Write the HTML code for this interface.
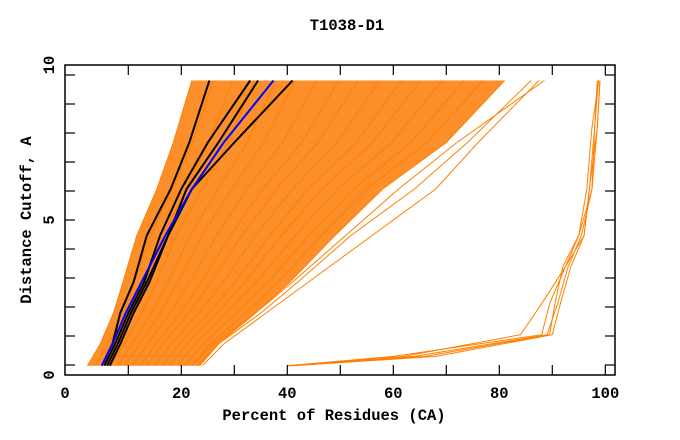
<!DOCTYPE html>
<html><head><meta charset="utf-8"><style>
html,body{margin:0;padding:0;background:#fff}
svg{display:block}
text{font-family:"Liberation Mono",monospace;font-weight:bold;font-size:15.5px;fill:#000}
</style></head><body>
<svg id="chart" width="680" height="440" viewBox="0 0 680 440">
<text x="347" y="30" text-anchor="middle">T1038-D1</text>
<text x="334" y="420" text-anchor="middle">Percent of Residues (CA)</text>
<text transform="translate(31,220) rotate(-90)" text-anchor="middle">Distance Cutoff, A</text>
<g id="plot"></g>
</svg>
<script>
const levels = [0.3,1,2,3,4.5,6,7.5,9.5];
const bandLeft = [2.3,4.7,7.2,9,11.6,15.4,18.5,22];
const bandRight = [23.5,27,34,40.5,49,58,70,81];
const orangeLines = [
 [2.3,4.7,7.2,9,11.6,15.4,18.5,22],
 [3.8,6.3,9.1,11.2,14.2,18.4,22.1,26.1],
 [5.1,7.6,10.7,13.1,16.5,20.9,25.2,29.7],
 [6.5,9.2,12.6,15.3,19.1,23.9,28.8,33.8],
 [8.0,10.7,14.4,17.5,21.7,26.9,32.4,37.9],
 [9.3,12.1,16,19.4,23.9,29.5,35.5,41.5],
 [10.8,13.6,17.9,21.6,26.6,32.4,39.1,45.6],
 [12.3,15.2,19.8,23.8,29.2,35.4,42.7,49.7],
 [13.5,16.5,21.4,25.7,31.4,38,45.8,53.3],
 [15,18.1,23.3,27.9,34,41,49.4,57.4],
 [16.5,19.6,25.2,30.1,36.7,43.9,53,61.5],
 [17.8,21,26.8,32,38.9,46.5,56.1,65.1],
 [19.3,22.5,28.6,34.2,41.5,49.5,59.7,69.2],
 [20.7,24.1,30.5,36.4,44.1,52.5,63.3,73.3],
 [22,25.4,32.1,38.3,46.4,55,66.4,76.9],
 [23.5,27,34,40.5,49,58,70,81],
 [24,28,36,44,56,68,76,87.5],
 [23,27,35,42,52,64,74,86],
 [22,26,34,41,51,61,72,88.5]
];
const blackLines = [
 [5,7,8.5,11,13.5,18,21.5,25.3],
 [5.5,7.5,10,13,16,20,25,33],
 [6,8,10.5,13.5,17.5,21,27,34.5],
 [6.5,8.5,11,14,17.5,22,30,41]
];
const blueLine = [5,7,9.5,12.5,17,22,28,37.4];
const outlierLevels = [0.3,0.6,1.3,2.3,3.5,4.5,6,8,9.5];
const outlierLines = [
 [40,62,84,88,92.5,96,97,98,98.5],
 [40,64,89,91,93,95.5,97.5,98.5,99],
 [40.5,66,89.5,90.5,92,95,96.5,97.5,98.8],
 [41,68,90,91.5,93.5,96,97,98.5,99],
 [40,60,88,89.5,92.5,95,97.5,98,98.7]
];
const xTickValues = [0,20,40,60,80,100];
const yTickLabels = [0,5,10];

const NS='http://www.w3.org/2000/svg';
const plot=document.getElementById('plot');
const L=65,R=615,T=65,B=375;
function x(v){return 75.3+5.3*v;}
function y(v){return 375-31*v;}
function mk(tag,attrs){const e=document.createElementNS(NS,tag);for(const k in attrs)e.setAttribute(k,attrs[k]);plot.appendChild(e);return e;}
function pts(xs,ys){return xs.map((v,i)=>x(v).toFixed(1)+','+y(ys[i]).toFixed(1)).join(' ');}

const band=mk('polygon',{points:pts(bandLeft,levels)+' '+pts(bandRight.slice().reverse(),levels.slice().reverse()),fill:'#fc8f2a',stroke:'none'});


orangeLines.forEach(xs=>{
 const p=mk('polyline',{points:pts(xs,levels),fill:'none',stroke:'#ff8000','stroke-width':1});
 
 
});
outlierLines.forEach(xs=>{
 const p=mk('polyline',{points:pts(xs,outlierLevels),fill:'none',stroke:'#ff8000','stroke-width':1});
 
 
});
blackLines.forEach(xs=>{
 const p=mk('polyline',{points:pts(xs,levels),fill:'none',stroke:'#000','stroke-width':2});
 
 
});
const bl=mk('polyline',{points:pts(blueLine,levels),fill:'none',stroke:'#0000ff','stroke-width':2});



const frame=mk('rect',{x:L,y:T,width:R-L,height:B-T,fill:'none',stroke:'#000','stroke-width':1.5});


for(let k=1;k<=10;k++){
 const px=x(k*10);
 const t1=mk('line',{x1:px,y1:B,x2:px,y2:B-10,stroke:'#000','stroke-width':1.2});
 
 
 const t2=mk('line',{x1:px,y1:T,x2:px,y2:T+10,stroke:'#000','stroke-width':1.2});
 
 
}
for(let k=0;k<=10;k++){
 const py=75+29*k;
 const t1=mk('line',{x1:L,y1:py,x2:L+10,y2:py,stroke:'#000','stroke-width':1.2});
 
 
 const t2=mk('line',{x1:R,y1:py,x2:R-10,y2:py,stroke:'#000','stroke-width':1.2});
 
 
}
xTickValues.forEach(v=>{
 const px=v===0?L:x(v);
 const t=mk('text',{x:px,y:398,'text-anchor':'middle'});
 t.textContent=v;
 
 
});
yTickLabels.forEach(v=>{
 const py=375-31*v;
 const t=mk('text',{transform:'translate(54,'+py+') rotate(-90)','text-anchor':'middle'});
 t.textContent=v;
 
 
});
</script>
</body></html>
